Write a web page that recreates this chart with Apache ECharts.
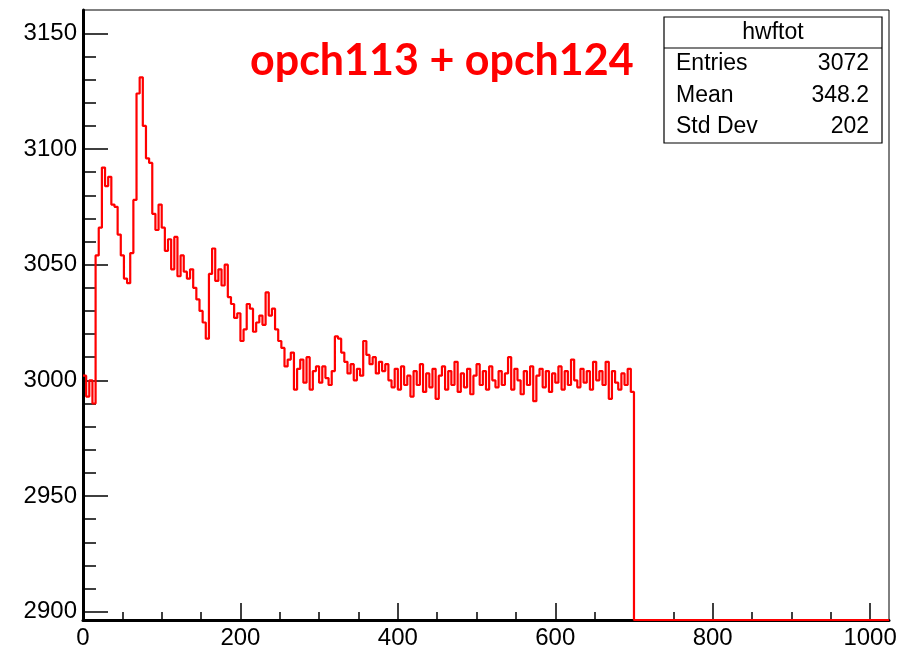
<!DOCTYPE html>
<html>
<head>
<meta charset="utf-8">
<script src="https://cdn.jsdelivr.net/npm/echarts@6/dist/echarts.min.js"></script>
<style>
  html, body { margin: 0; padding: 0; background: #fff; }
  #chart { width: 912px; height: 650px; }
</style>
</head>
<body>
<div id="chart"></div>
<script>
// hwftot: summed waveform of opch113 + opch124, bin width 4 samples
const BIN_WIDTH = 4;
const X_MIN = 0;
const X_MAX = 1024;
const Y_MIN = 2896.4;
const Y_MAX = 3160.1;

// bin contents for bins starting at 0, 4, 8, ... 696 (ten bins per row)
const binValues = [
  3002, 2993, 3000, 2990, 3054, 3066, 3092, 3084, 3088, 3076,
  3075, 3063, 3054, 3044, 3042, 3055, 3078, 3124, 3131, 3110,
  3096, 3094, 3072, 3065, 3076, 3066, 3056, 3061, 3048, 3062,
  3045, 3054, 3047, 3044, 3048, 3040, 3035, 3030, 3025, 3018,
  3046, 3057, 3043, 3048, 3041, 3050, 3036, 3033, 3027, 3029,
  3017, 3022, 3033, 3031, 3021, 3025, 3028, 3024, 3038, 3028,
  3031, 3022, 3017, 3014, 3006, 3009, 3012, 2996, 3005, 3009,
  2999, 3010, 2996, 3004, 3006, 2999, 3006, 3001, 2998, 3004,
  3019, 3018, 3012, 3008, 3003, 3007, 3000, 3005, 3002, 3017,
  3011, 3007, 3010, 3003, 3008, 3004, 3007, 3000, 2997, 3005,
  2996, 3006, 2998, 3002, 2993, 3004, 2998, 3007, 2995, 3003,
  2997, 3005, 2992, 3002, 3006, 2996, 3004, 2998, 3008, 2995,
  3003, 2997, 3005, 2994, 3002, 3007, 2998, 3004, 2996, 3006,
  3000, 2997, 3004, 2998, 3003, 3010, 2996, 3005, 3000, 2994,
  3004, 2998, 3006, 2991, 3002, 3005, 2997, 3004, 2995, 3003,
  2999, 3006, 2996, 3004, 2998, 3009, 3000, 2997, 3005, 2999,
  3004, 2996, 3008, 3000, 3004, 2998, 3008, 2992, 3004, 2999,
  2996, 3003, 2998, 3005, 2995
];
// samples 700..1024 are empty
const emptyStart = 700;
const emptyValue = 0;

const xMajorTicks = [0, 200, 400, 600, 800, 1000];
const xMinorTicks = [50, 100, 150, 250, 300, 350, 450, 500, 550, 650, 700, 750, 850, 900, 950];
const yMajorTicks = [2900, 2950, 3000, 3050, 3100, 3150];
const yMinorTicks = [2910, 2920, 2930, 2940, 2960, 2970, 2980, 2990, 3010, 3020, 3030, 3040,
                     3060, 3070, 3080, 3090, 3110, 3120, 3130, 3140];

const titleText = 'opch113 + opch124';
const statsName = 'hwftot';
const statsRows = [
  ['Entries', '3072'],
  ['Mean', '348.2'],
  ['Std Dev', '202']
];

// empty bins sit below the axis range and are drawn along the frame, as ROOT does
const clampY = v => Math.max(v, Y_MIN);
const histPoints = binValues.map((v, i) => [X_MIN + i * BIN_WIDTH, clampY(v)]);
histPoints.push([emptyStart, clampY(emptyValue)]);
histPoints.push([X_MAX, clampY(emptyValue)]);

const FONT = '"Liberation Sans", Arial, Helvetica, sans-serif';
const AXIS_FONT_SIZE = 24;
const STATS_FONT = '23px ' + FONT;

const chart = echarts.init(document.getElementById('chart'), null, { renderer: 'canvas' });

const gridRect = { left: 83, top: 10, width: 806, height: 610 };

const statsBox = { x: 664, y: 17, w: 218, h: 126, headerH: 31 };
const statsGraphics = [
  {
    type: 'rect',
    shape: { x: statsBox.x, y: statsBox.y, width: statsBox.w, height: statsBox.h },
    style: { fill: '#fff', stroke: '#000', lineWidth: 1.2 },
    z: 10
  },
  {
    type: 'line',
    shape: { x1: statsBox.x, y1: statsBox.y + statsBox.headerH, x2: statsBox.x + statsBox.w, y2: statsBox.y + statsBox.headerH },
    style: { stroke: '#000', lineWidth: 1.2 },
    z: 11
  },
  {
    type: 'text',
    x: statsBox.x + statsBox.w / 2,
    y: statsBox.y + 16,
    style: { text: statsName, font: STATS_FONT, fill: '#000',
             align: 'center', verticalAlign: 'middle', textAlign: 'center', textVerticalAlign: 'middle' },
    z: 11
  }
];
statsRows.forEach((row, i) => {
  const cy = 64 + i * 31.5;
  statsGraphics.push({
    type: 'text', x: statsBox.x + 12, y: cy,
    style: { text: row[0], font: STATS_FONT, fill: '#000',
             align: 'left', verticalAlign: 'middle', textAlign: 'left', textVerticalAlign: 'middle' },
    z: 11
  });
  statsGraphics.push({
    type: 'text', x: statsBox.x + statsBox.w - 13, y: cy,
    style: { text: row[1], font: STATS_FONT, fill: '#000',
             align: 'right', verticalAlign: 'middle', textAlign: 'right', textVerticalAlign: 'middle' },
    z: 11
  });
});

const option = {
  backgroundColor: '#fff',
  animation: false,
  grid: Object.assign({ show: true, borderColor: '#000', borderWidth: 1, backgroundColor: 'transparent' }, gridRect),
  xAxis: [
    {
      type: 'value', min: X_MIN, max: X_MAX, position: 'bottom',
      axisLine: { show: true, onZero: false, lineStyle: { color: '#000', width: 3 } },
      axisTick: { show: true, inside: true, length: 17, customValues: xMajorTicks, lineStyle: { color: '#000', width: 1.5 } },
      axisLabel: { show: true, customValues: xMajorTicks, margin: 6, color: '#000', fontSize: AXIS_FONT_SIZE, fontFamily: FONT,
                   formatter: v => String(v) },
      splitLine: { show: false }
    },
    {
      type: 'value', min: X_MIN, max: X_MAX, position: 'bottom',
      axisLine: { show: false, onZero: false },
      axisTick: { show: true, inside: true, length: 8, customValues: xMinorTicks, lineStyle: { color: '#000', width: 1.5 } },
      axisLabel: { show: false },
      splitLine: { show: false }
    }
  ],
  yAxis: [
    {
      type: 'value', min: Y_MIN, max: Y_MAX, position: 'left',
      axisLine: { show: true, onZero: false, lineStyle: { color: '#000', width: 3 } },
      axisTick: { show: true, inside: true, length: 25, customValues: yMajorTicks, lineStyle: { color: '#000', width: 1.5 } },
      axisLabel: { show: true, customValues: yMajorTicks, margin: 6, color: '#000', fontSize: AXIS_FONT_SIZE, fontFamily: FONT,
                   formatter: v => String(v) },
      splitLine: { show: false }
    },
    {
      type: 'value', min: Y_MIN, max: Y_MAX, position: 'left',
      axisLine: { show: false, onZero: false },
      axisTick: { show: true, inside: true, length: 13, customValues: yMinorTicks, lineStyle: { color: '#000', width: 1.5 } },
      axisLabel: { show: false },
      splitLine: { show: false }
    }
  ],
  series: [
    {
      name: statsName,
      type: 'line',
      xAxisIndex: 0,
      yAxisIndex: 0,
      step: 'end',
      showSymbol: false,
      symbol: 'none',
      lineStyle: { color: '#ff0000', width: 2.2 },
      data: histPoints,
      z: 5
    }
  ],
  graphic: [
    {
      type: 'text',
      x: 250,
      y: 61,
      style: { text: titleText, font: 'bold 43px Lato, "Open Sans", sans-serif', fill: '#ff0000',
               align: 'left', verticalAlign: 'middle', textAlign: 'left', textVerticalAlign: 'middle' },
      z: 12
    }
  ].concat(statsGraphics)
};

chart.setOption(option);
</script>
</body>
</html>
